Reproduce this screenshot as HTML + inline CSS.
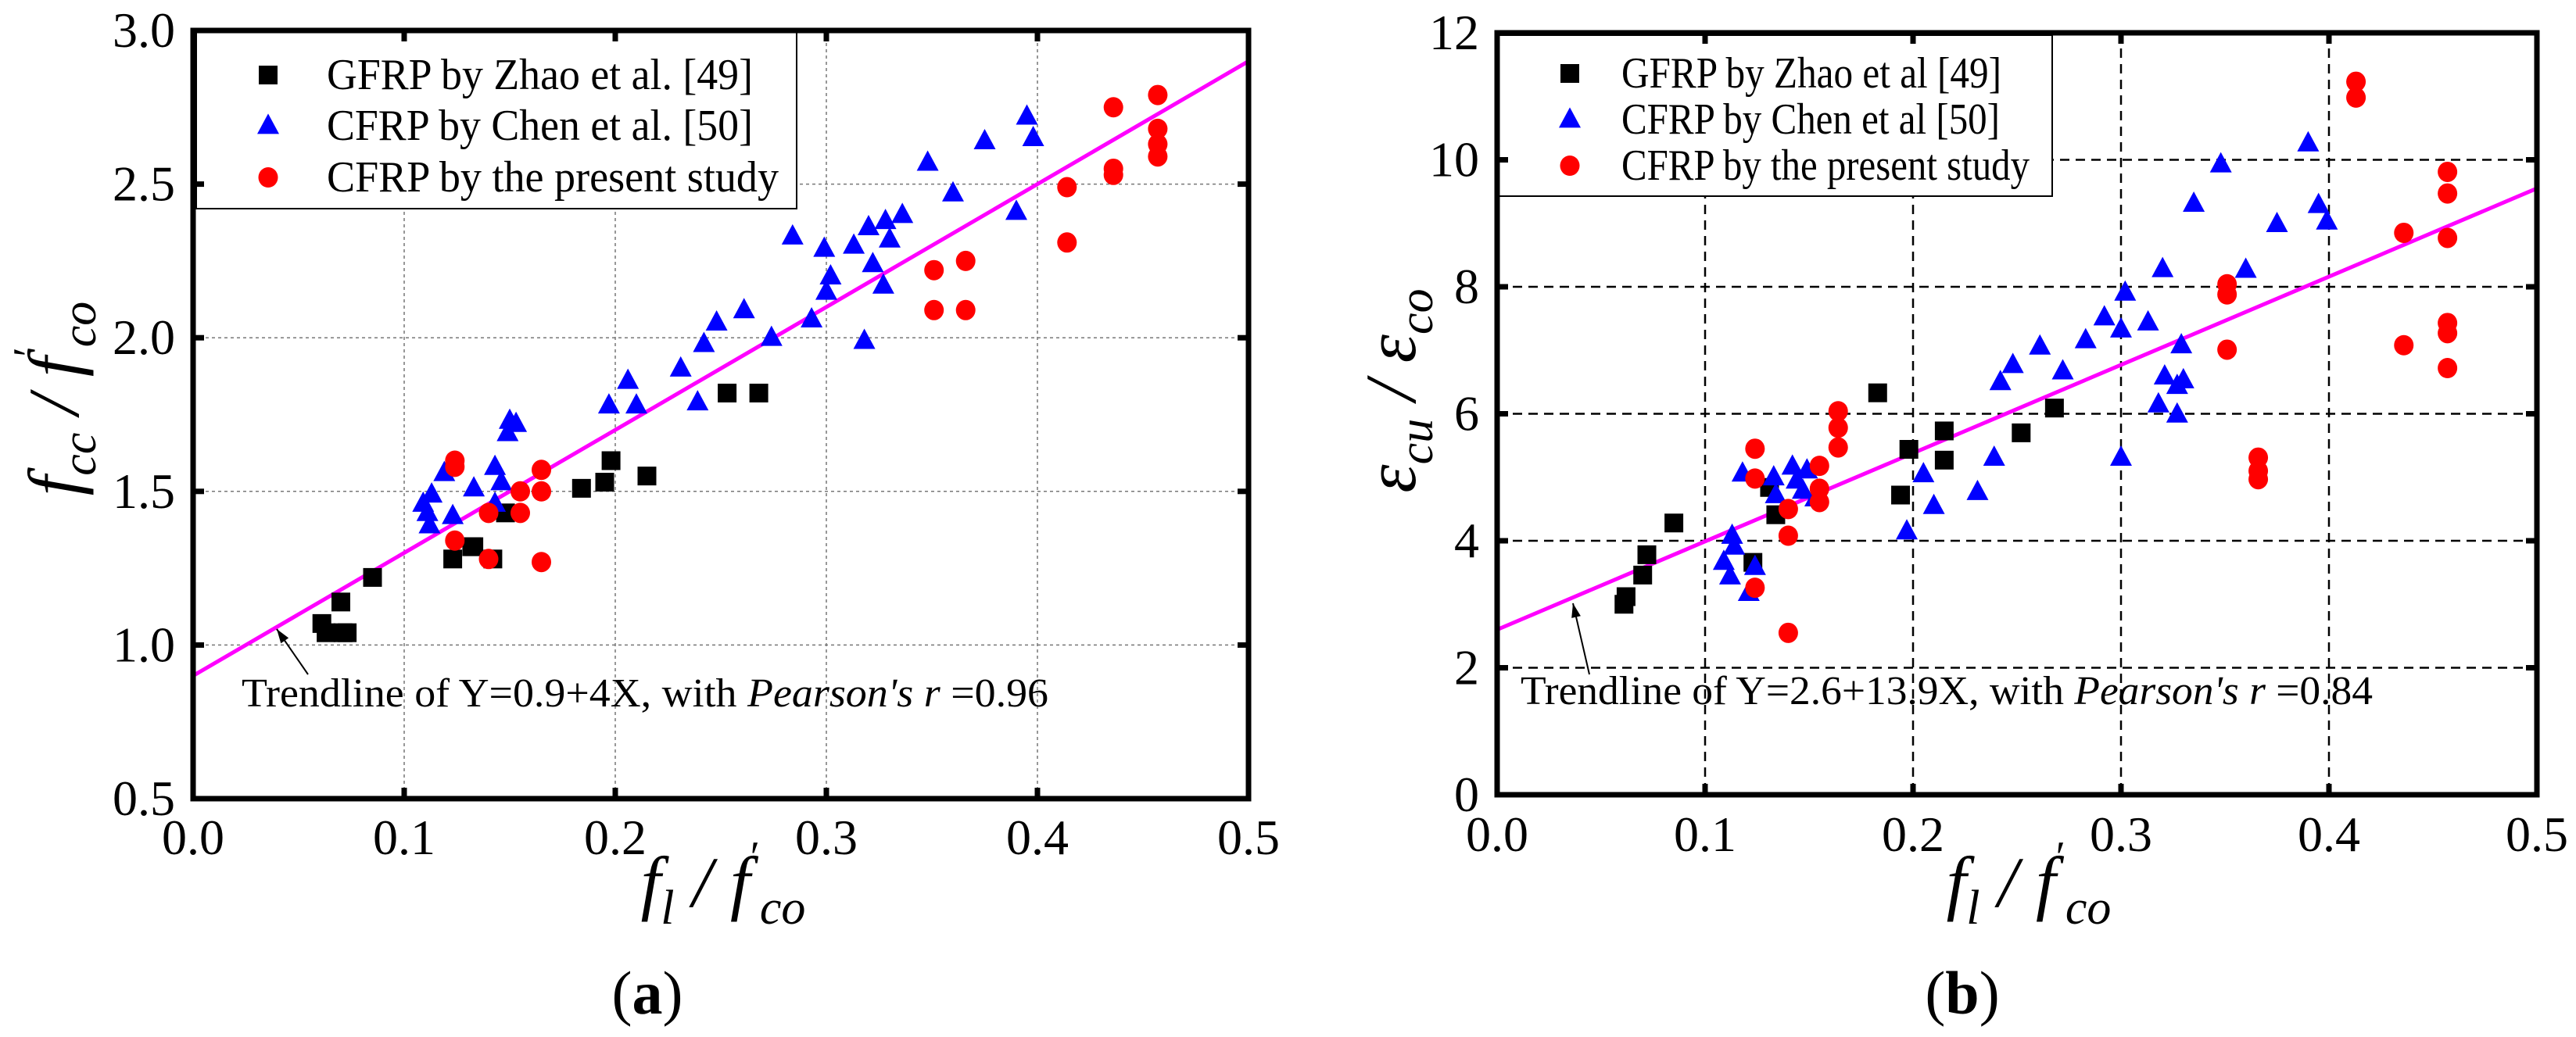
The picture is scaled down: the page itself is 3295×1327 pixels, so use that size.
<!DOCTYPE html>
<html><head><meta charset="utf-8">
<style>
html,body{margin:0;padding:0;background:#fff;}
svg{display:block;font-family:"Liberation Serif",serif;}
</style></head>
<body>
<svg id="fig" width="3295" height="1327" viewBox="0 0 3295 1327" xmlns="http://www.w3.org/2000/svg"></svg>
<script>
// ---------- Panel (a) data ----------
const aGfrpX=[0.061,0.063,0.070,0.071,0.073,0.085,0.123,0.132,0.133,0.142,0.148,0.184,0.195,0.198,0.215,0.253,0.268];
const aGfrpY=[1.07,1.04,1.14,1.04,1.04,1.22,1.28,1.32,1.32,1.28,1.43,1.51,1.53,1.60,1.55,1.82,1.82];
const aChenX=[0.109,0.111,0.112,0.113,0.119,0.123,0.133,0.143,0.143,0.146,0.149,0.150,0.153,0.197,0.206,0.210,0.231,0.239,0.242,0.248,0.261,0.274,0.284,0.293,0.299,0.300,0.302,0.313,0.318,0.320,0.322,0.327,0.328,0.330,0.336,0.348,0.360,0.375,0.390,0.395,0.398];
const aChenY=[1.46,1.43,1.39,1.49,1.56,1.42,1.51,1.58,1.46,1.53,1.69,1.73,1.72,1.78,1.86,1.78,1.90,1.79,1.98,2.05,2.09,2.00,2.33,2.06,2.29,2.15,2.20,2.30,1.99,2.36,2.24,2.17,2.38,2.32,2.40,2.57,2.47,2.64,2.41,2.72,2.65];
const aPresX=[0.124,0.124,0.124,0.140,0.140,0.155,0.155,0.165,0.165,0.165,0.351,0.351,0.366,0.366,0.414,0.414,0.436,0.436,0.436,0.457,0.457,0.457,0.457];
const aPresY=[1.60,1.58,1.34,1.43,1.28,1.43,1.50,1.57,1.50,1.27,2.22,2.09,2.25,2.09,2.49,2.31,2.75,2.55,2.53,2.79,2.68,2.63,2.59];
const aTrend=[0.9,4.0];
const aXTicks=["0.0","0.1","0.2","0.3","0.4","0.5"];
const aYTicks=["0.5","1.0","1.5","2.0","2.5","3.0"];
// ---------- Panel (b) data ----------
const bGfrpX=[0.061,0.062,0.070,0.072,0.085,0.123,0.131,0.134,0.183,0.194,0.198,0.215,0.215,0.252,0.268];
const bGfrpY=[3.00,3.12,3.46,3.78,4.28,3.66,4.84,4.41,6.33,4.72,5.44,5.73,5.27,5.70,6.09];
const bChenX=[0.109,0.112,0.113,0.114,0.118,0.121,0.124,0.133,0.134,0.142,0.144,0.147,0.149,0.153,0.197,0.205,0.210,0.231,0.239,0.242,0.248,0.261,0.272,0.283,0.292,0.300,0.300,0.302,0.313,0.318,0.320,0.321,0.327,0.327,0.329,0.330,0.335,0.348,0.360,0.375,0.390,0.395,0.399];
const bChenY=[3.67,3.44,4.08,3.91,5.06,3.18,3.59,5.00,4.72,5.17,4.95,4.79,5.11,4.67,4.15,5.05,4.55,4.77,5.31,6.50,6.77,7.06,6.67,7.16,7.52,7.33,5.31,7.91,7.44,6.15,8.28,6.59,6.44,5.99,7.08,6.53,9.31,9.93,8.27,8.99,10.26,9.29,9.03];
const bPresX=[0.124,0.124,0.124,0.140,0.140,0.140,0.155,0.155,0.155,0.164,0.164,0.164,0.351,0.351,0.351,0.366,0.366,0.366,0.413,0.413,0.436,0.436,0.457,0.457,0.457,0.457,0.457,0.457];
const bPresY=[5.45,4.98,3.26,4.50,4.08,2.55,5.18,4.82,4.61,6.04,5.78,5.47,8.04,7.88,7.01,5.31,5.10,4.97,11.23,10.98,8.85,7.08,9.81,9.47,8.77,7.43,7.27,6.72];
const bTrend=[2.6,13.9];
const bXTicks=["0.0","0.1","0.2","0.3","0.4","0.5"];
const bYTicks=["0","2","4","6","8","10","12"];

const NS="http://www.w3.org/2000/svg";
const svg=document.getElementById('fig');
function mk(tag,attrs,parent,text){
  const e=document.createElementNS(NS,tag);
  for(const k in attrs) e.setAttribute(k,attrs[k]);
  if(text!==undefined) e.textContent=text;
  (parent||svg).appendChild(e);
  return e;
}

function panel(cfg){
  const g=mk('g',{});
  
  
  const L=cfg.L,R=cfg.R,T=cfg.T,B=cfg.B;
  const sx=v=>L+(v-0)/(0.5-0)*(R-L);
  const sy=v=>B-(v-cfg.ymin)/(cfg.ymax-cfg.ymin)*(B-T);
  const grid=mk('g',{},g);
  
  
  const xn=cfg.xticks.length, yn=cfg.yticks.length;
  for(let i=1;i<xn-1;i++){
    const x=sx(parseFloat(cfg.xticks[i]));
    const l=mk('line',{x1:x,x2:x,y1:T,y2:B,stroke:cfg.gridColor,'stroke-width':cfg.gridW,'stroke-dasharray':cfg.dash},grid);
    
    
  }
  for(let i=1;i<yn-1;i++){
    const y=sy(parseFloat(cfg.yticks[i]));
    const l=mk('line',{x1:L,x2:R,y1:y,y2:y,stroke:cfg.gridColor,'stroke-width':cfg.gridW,'stroke-dasharray':cfg.dash},grid);
    
    
  }
  const lg=mk('g',{},g);
  
  
  mk('rect',{x:cfg.leg[0],y:cfg.leg[1],width:cfg.leg[2],height:cfg.leg[3],fill:'#fff',stroke:'#000','stroke-width':2},lg);
  const tl=mk('line',{x1:sx(0),y1:sy(cfg.trend[0]),x2:sx(0.5),y2:sy(cfg.trend[0]+cfg.trend[1]*0.5),stroke:'#ff00ff','stroke-width':5},g);
  
  
  function sq(x,y,p){const s=24;return mk('rect',{x:x-s/2,y:y-s/2,width:s,height:s,fill:'#000'},p);}
  function tri(x,y,p){const h=26,w=28;return mk('polygon',{points:`${x},${y-h*0.6} ${x-w/2},${y+h*0.4} ${x+w/2},${y+h*0.4}`,fill:'#0000ff'},p);}
  function circ(x,y,p){return mk('ellipse',{cx:x,cy:y,rx:12.5,ry:13,fill:'#ff0000'},p);}
  const s1=mk('g',{},g);
  
  
  cfg.g[0].forEach((v,i)=>{const e=sq(sx(v),sy(cfg.g[1][i]),s1);
    
    });
  const s2=mk('g',{},g);
  
  
  cfg.c[0].forEach((v,i)=>{const e=tri(sx(v),sy(cfg.c[1][i]),s2);
    
    });
  const s3=mk('g',{},g);
  
  
  cfg.p[0].forEach((v,i)=>{const e=circ(sx(v),sy(cfg.p[1][i]),s3);
    
    });
  const rows=cfg.legRows, lx=cfg.legMX, tx=cfg.legTX;
  sq(lx,rows[0],lg); tri(lx,rows[1],lg); circ(lx,rows[2],lg);
  cfg.legText.forEach((t,i)=>{const e=mk('text',{x:tx,y:rows[i]+18,'font-size':56,textLength:cfg.legLen[i],lengthAdjust:'spacingAndGlyphs'},lg,t);
    
    });
  const fr=mk('rect',{x:L,y:T,width:R-L,height:B-T,fill:'none',stroke:'#000','stroke-width':7},g);
  
  
  for(let i=0;i<xn;i++){
    const x=sx(parseFloat(cfg.xticks[i]));
    if(i>0&&i<xn-1){
      mk('line',{x1:x,x2:x,y1:B,y2:B-14,stroke:'#000','stroke-width':7},g);
      mk('line',{x1:x,x2:x,y1:T,y2:T+14,stroke:'#000','stroke-width':7},g);
    }
    const t=mk('text',{x:x,y:cfg.xlabY,'font-size':64,'text-anchor':'middle'},g,cfg.xticks[i]);
    
    
  }
  for(let i=0;i<yn;i++){
    const y=sy(parseFloat(cfg.yticks[i]));
    if(i>0&&i<yn-1){
      mk('line',{x1:L,x2:L+14,y1:y,y2:y,stroke:'#000','stroke-width':7},g);
      mk('line',{x1:R,x2:R-14,y1:y,y2:y,stroke:'#000','stroke-width':7},g);
    }
    const t=mk('text',{x:cfg.ylabX,y:y+21,'font-size':64,'text-anchor':'end'},g,cfg.yticks[i]);
    
    
  }
  const an=mk('text',{x:cfg.ann[0],y:cfg.ann[1],'font-size':52,textLength:cfg.ann[2],lengthAdjust:'spacingAndGlyphs'},g);
  
  
  mk('tspan',{},an,cfg.annPre);
  mk('tspan',{'font-style':'italic'},an,"Pearson's r");
  mk('tspan',{},an," =" + cfg.annR);
  const ar=cfg.arrow;
  const al=mk('line',{x1:ar[0],y1:ar[1],x2:ar[2],y2:ar[3],stroke:'#000','stroke-width':2},g);
  
  
  const ang=Math.atan2(ar[3]-ar[1],ar[2]-ar[0]);
  const hx=ar[2],hy=ar[3],hl=18,hw=6;
  mk('polygon',{points:`${hx},${hy} ${hx-hl*Math.cos(ang)+hw*Math.sin(ang)},${hy-hl*Math.sin(ang)-hw*Math.cos(ang)} ${hx-hl*Math.cos(ang)-hw*Math.sin(ang)},${hy-hl*Math.sin(ang)+hw*Math.cos(ang)}`,fill:'#000'},g);
}

panel({name:'panel-a',L:247,R:1597,T:39,B:1022,ymin:0.5,ymax:3.0,
  xticks:aXTicks,yticks:aYTicks,gridColor:'#777',gridW:1.5,dash:'4,4',
  g:[aGfrpX,aGfrpY],c:[aChenX,aChenY],p:[aPresX,aPresY],trend:aTrend,
  leg:[251,41,768,226],legRows:[96,161,227],legMX:343,legTX:418,
  legText:['GFRP by Zhao et al. [49]','CFRP by Chen et al. [50]','CFRP by the present study'],legLen:[545,545,578],
  xlabY:1093,ylabX:224,ann:[309,904,1032],annPre:'Trendline of Y=0.9+4X, with ',annR:'0.96',arrow:[394,863,354,805]});
panel({name:'panel-b',L:1915,R:3245,T:42,B:1017,ymin:0,ymax:12,
  xticks:bXTicks,yticks:bYTicks,gridColor:'#000',gridW:2.5,dash:'12,8',
  g:[bGfrpX,bGfrpY],c:[bChenX,bChenY],p:[bPresX,bPresY],trend:bTrend,
  leg:[1917,45,708,206],legRows:[94,153,212],legMX:2008,legTX:2074,
  legText:['GFRP by Zhao et al [49]','CFRP by Chen et al [50]','CFRP by the present study'],legLen:[486,484,522],
  xlabY:1089,ylabX:1892,ann:[1945,901,1090],annPre:'Trendline of Y=2.6+13.9X, with ',annR:'0.84',arrow:[2033,863,2012,772]});

function axisTitle(x,y,rot,parts,name){
  const t=mk('text',{x:x,y:y,'font-size':92,'font-style':'italic','text-anchor':'middle',transform:rot?`rotate(-90 ${x} ${y})`:''});
  
  
  parts.forEach(p=>mk('tspan',p[1]||{},t,p[0]));
}
const fPartsX=[['f'],['l',{'font-size':62,dy:22}],[' / ',{dy:-22}],['f'],['\u2032',{'font-size':56,dy:-45,'font-style':'normal'}],['co',{'font-size':62,dy:67}]];
axisTitle(925,1160,false,fPartsX,'x-axis-title-a');
axisTitle(2595,1160,false,fPartsX,'x-axis-title-b');
axisTitle(100,510,true,[['f'],['cc',{'font-size':62,dy:22}],[' / ',{dy:-22}],['f'],['\u2032',{'font-size':56,dy:-45,'font-style':'normal'}],['co',{'font-size':62,dy:67}]],'y-axis-title-a');
axisTitle(1810,500,true,[['\u03b5'],['cu',{'font-size':62,dy:22}],[' / ',{dy:-22}],['\u03b5'],['co',{'font-size':62,dy:22}]],'y-axis-title-b');

function cap(x,name,letter){
  const t=mk('text',{x:x,y:1297,'font-size':78,'text-anchor':'middle'});
  
  
  mk('tspan',{},t,'(');
  mk('tspan',{'font-weight':'bold'},t,letter);
  mk('tspan',{},t,')');
}
cap(828,'caption-a','a');
cap(2510,'caption-b','b');
</script>
</body></html>
